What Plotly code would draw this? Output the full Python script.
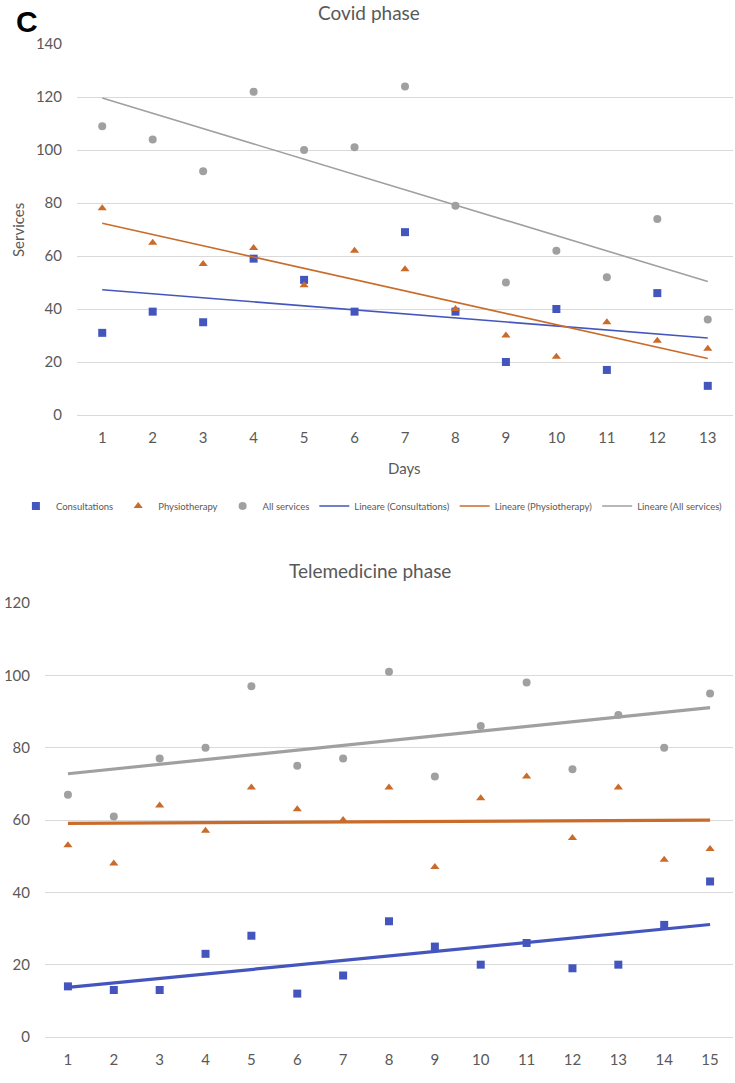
import numpy as np
import plotly.graph_objects as go

# ---- data ----
covid_days = list(range(1, 14))
covid_consultations = [31, 39, 35, 59, 51, 39, 69, 39, 20, 40, 17, 46, 11]
covid_physiotherapy = [78, 65, 57, 63, 49, 62, 55, 40, 30, 22, 35, 28, 25]
covid_all = [109, 104, 92, 122, 100, 101, 124, 79, 50, 62, 52, 74, 36]

tele_days = list(range(1, 16))
tele_consultations = [14, 13, 13, 23, 28, 12, 17, 32, 25, 20, 26, 19, 20, 31, 43]
tele_physiotherapy = [53, 48, 64, 57, 69, 63, 60, 69, 47, 66, 72, 55, 69, 49, 52]
tele_all = [67, 61, 77, 80, 97, 75, 77, 101, 72, 86, 98, 74, 89, 80, 95]

series_names = ["Consultations", "Physiotherapy", "All services"]

BLUE = "#4456BD"
ORANGE = "#CA6B2A"
GRAY = "#A0A0A0"
TEXT = "#595959"
GRID = "#D9D9D9"
FONT = "Lato"

W, H = 735, 1083

def px_x(p):
    return p / W

def px_y(p):
    return 1 - p / H

fig = go.Figure()

colors = [BLUE, ORANGE, GRAY]
symbols = ["square", "triangle-up", "circle"]


def add_panel(days, data, xa, ya, showlegend, lw):
    xs = np.array(days, dtype=float)
    for name, ys, c, s in zip(series_names, data, colors, symbols):
        fig.add_trace(go.Scatter(
            x=days, y=ys, mode="markers", name=name,
            marker=dict(color=c, symbol=s, size=8, line=dict(width=0)),
            xaxis=xa, yaxis=ya, showlegend=showlegend,
        ))
    for name, ys, c in zip(series_names, data, colors):
        m, b = np.polyfit(xs, np.array(ys, dtype=float), 1)
        fig.add_trace(go.Scatter(
            x=[days[0], days[-1]], y=[m * days[0] + b, m * days[-1] + b],
            mode="lines", name=f"Lineare ({name})",
            line=dict(color=c, width=lw),
            xaxis=xa, yaxis=ya, showlegend=showlegend,
        ))


add_panel(covid_days, [covid_consultations, covid_physiotherapy, covid_all], "x", "y", True, 1.6)
add_panel(tele_days, [tele_consultations, tele_physiotherapy, tele_all], "x2", "y2", False, 3.2)

axis_common = dict(
    showline=False, ticks="", automargin=False,
    tickfont=dict(family=FONT, size=15, color=TEXT),
)

fig.update_layout(
    template="none",
    width=W, height=H,
    margin=dict(l=0, r=0, t=0, b=0, autoexpand=False),
    paper_bgcolor="white", plot_bgcolor="white",
    font=dict(family=FONT, color=TEXT),
    xaxis=dict(domain=[px_x(77), px_x(733)], range=[0.5, 13.5], tickmode="array",
               tickvals=covid_days, showgrid=False, zeroline=False,
               ticklabelstandoff=12, anchor="y", **axis_common),
    yaxis=dict(domain=[px_y(415), px_y(44)], range=[0, 140], dtick=20, tick0=0,
               showgrid=True, gridcolor=GRID, gridwidth=1,
               zeroline=True, zerolinecolor=GRID, zerolinewidth=1,
               ticklabelstandoff=14, anchor="x", **axis_common),
    xaxis2=dict(domain=[px_x(45), px_x(733)], range=[0.5, 15.5], tickmode="array",
                tickvals=tele_days, showgrid=False, zeroline=False,
                ticklabelstandoff=12, anchor="y2", **axis_common),
    yaxis2=dict(domain=[px_y(1037), px_y(603)], range=[0, 120], dtick=20, tick0=0,
                showgrid=True, gridcolor=GRID, gridwidth=1,
                zeroline=True, zerolinecolor=GRID, zerolinewidth=1,
                ticklabelstandoff=14, anchor="x2", **axis_common),
    legend=dict(orientation="h", x=0.506, xanchor="center", y=px_y(506), yanchor="middle",
                font=dict(family=FONT, size=9.5, color=TEXT), itemwidth=30,
                tracegroupgap=0, bgcolor="rgba(0,0,0,0)"),
    showlegend=True,
)

annotations = [
    dict(text="<b>C</b>", x=px_x(14), y=px_y(21), xanchor="left", yanchor="middle",
         font=dict(family="Liberation Sans", size=30, color="black")),
    dict(text="Covid phase", x=px_x(369), y=px_y(12), xanchor="center", yanchor="middle",
         font=dict(family=FONT, size=19, color=TEXT)),
    dict(text="Days", x=px_x(405), y=px_y(468), xanchor="center", yanchor="middle",
         font=dict(family=FONT, size=15, color=TEXT)),
    dict(text="Services", x=px_x(18), y=px_y(230), xanchor="center", yanchor="middle",
         textangle=-90, font=dict(family=FONT, size=15, color=TEXT)),
    dict(text="Telemedicine phase", x=px_x(370), y=px_y(570), xanchor="center", yanchor="middle",
         font=dict(family=FONT, size=19, color=TEXT)),
]
for a in annotations:
    a.update(xref="paper", yref="paper", showarrow=False)
fig.update_layout(annotations=annotations)

fig.write_html("out.html", config={"displayModeBar": False},
               post_script="document.body.style.margin='0';")
